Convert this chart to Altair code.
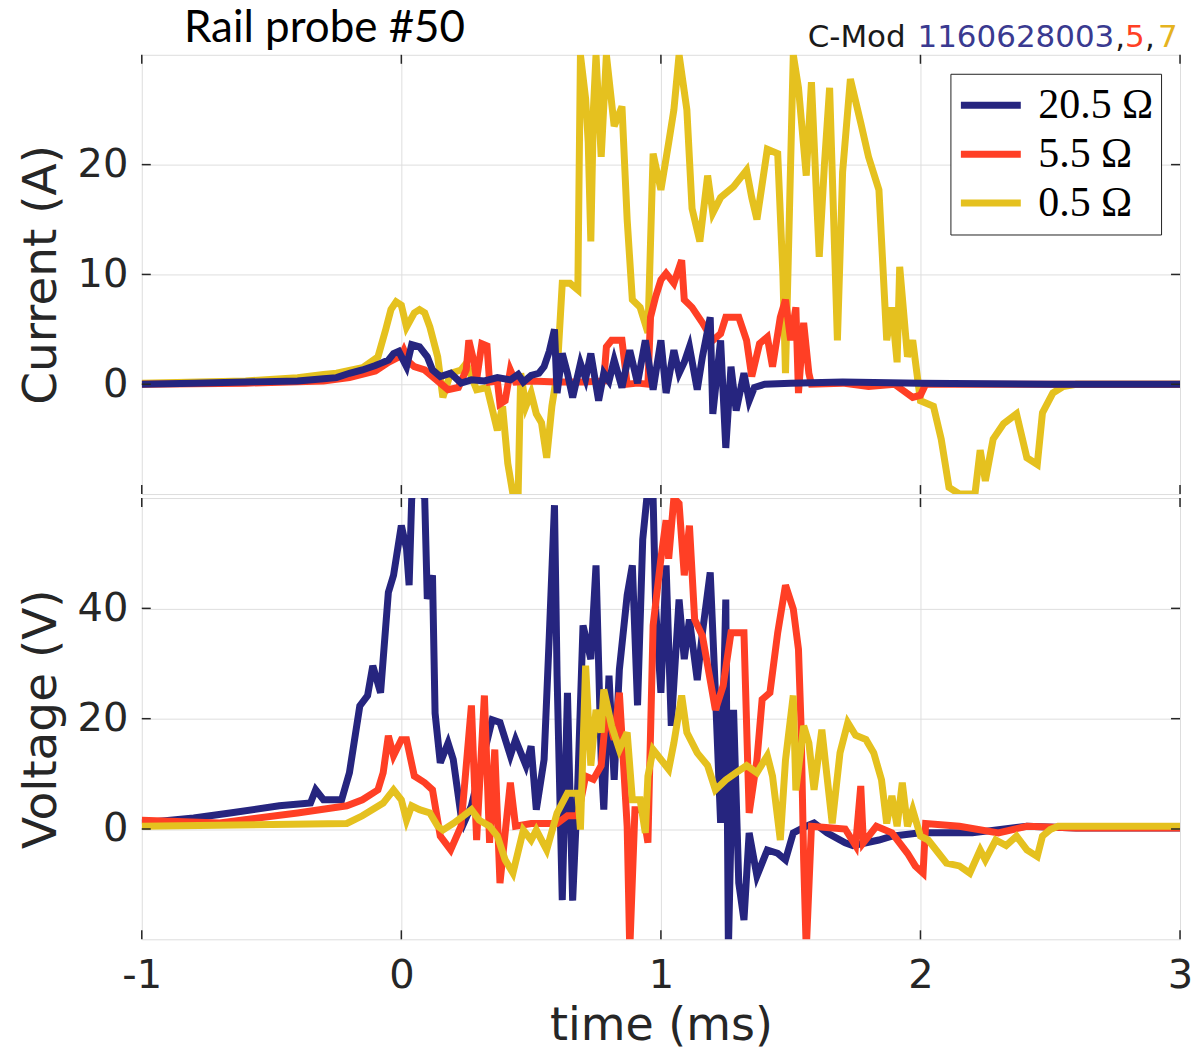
import altair as alt
import pandas as pd

# ---------------- data (time in ms, value) ----------------
LABELS = ["20.5 Ω", "5.5 Ω", "0.5 Ω"]
COLORS = ["#26257f", "#ff3f25", "#e5c11f"]

cur_blue = [(-1.0, 0.0), (-0.8, 0.1), (-0.6, 0.2), (-0.4, 0.3), (-0.3, 0.5), (-0.25, 0.6), (-0.2, 1.0),
            (-0.15, 1.3), (-0.1, 1.7), (-0.08, 1.9), (-0.05, 2.2), (-0.03, 2.8), (-0.01, 3.0), (0.02, 1.6),
            (0.04, 3.6), (0.07, 3.4), (0.1, 2.5), (0.12, 1.3), (0.15, 0.7), (0.19, 1.0), (0.23, 0.1),
            (0.27, 0.4), (0.32, 0.3), (0.37, 0.6), (0.42, 0.4), (0.45, 0.9), (0.47, 0.2), (0.5, 0.8),
            (0.53, 1.0), (0.55, 1.6), (0.57, 3.0), (0.59, 5.0), (0.6, -0.8), (0.62, 2.8), (0.64, 1.0),
            (0.66, -1.2), (0.69, 1.9), (0.71, 0.5), (0.73, 2.8), (0.76, -1.5), (0.78, 1.0), (0.8, 0.3),
            (0.82, 2.2), (0.85, -0.3), (0.88, 3.1), (0.91, 0.1), (0.94, 4.0), (0.97, -0.5), (1.0, 4.0),
            (1.02, -0.8), (1.05, 3.1), (1.07, 1.0), (1.09, 2.0), (1.11, 3.4), (1.14, -0.5), (1.16, 2.5),
            (1.19, 6.1), (1.2, -2.7), (1.23, 4.0), (1.25, -5.8), (1.27, 1.6), (1.29, -2.4), (1.32, 1.0),
            (1.34, -1.5), (1.36, -0.3), (1.4, 0.0), (1.5, 0.1), (1.7, 0.2), (2.0, 0.1), (2.5, 0.0), (3.0, 0.0)]

cur_red = [(-1.0, 0.0), (-0.6, 0.1), (-0.3, 0.3), (-0.2, 0.6), (-0.1, 1.2), (-0.05, 2.0), (0.0, 2.6),
           (0.01, 3.1), (0.03, 2.0), (0.05, 1.6), (0.09, 1.3), (0.13, 0.5), (0.18, -0.5), (0.22, -0.3),
           (0.25, 1.3), (0.26, 4.0), (0.28, 2.0), (0.29, 0.4), (0.31, 3.7), (0.33, 3.5), (0.34, 0.2),
           (0.37, 0.3), (0.38, -1.8), (0.40, -1.5), (0.42, 1.3), (0.44, 0.2), (0.5, 0.3), (0.6, 0.2),
           (0.7, 0.2), (0.78, 0.3), (0.79, 3.4), (0.81, 4.0), (0.85, 4.0), (0.87, 0.0), (0.91, 0.1),
           (0.95, 0.0), (0.96, 6.1), (0.98, 8.0), (1.0, 9.5), (1.02, 10.1), (1.05, 9.2), (1.08, 11.3),
           (1.09, 7.7), (1.12, 7.0), (1.16, 5.6), (1.2, 4.0), (1.23, 4.6), (1.25, 6.1), (1.3, 6.1),
           (1.33, 4.0), (1.35, 0.7), (1.38, 3.7), (1.41, 4.3), (1.43, 1.6), (1.46, 6.1), (1.48, 7.7),
           (1.5, 4.0), (1.52, 7.0), (1.53, -0.8), (1.55, 5.6), (1.57, 1.0), (1.58, 0.0), (1.7, 0.1),
           (1.8, -0.2), (1.9, 0.0), (1.97, -1.2), (2.0, -1.0), (2.02, 0.0), (2.5, 0.0), (3.0, 0.0)]

cur_yellow = [(-1.0, 0.1), (-0.6, 0.3), (-0.4, 0.6), (-0.3, 0.9), (-0.25, 1.0), (-0.15, 1.5), (-0.09, 2.5),
              (-0.06, 5.0), (-0.04, 6.8), (-0.02, 7.5), (0.0, 7.2), (0.02, 5.2), (0.05, 6.5), (0.07, 6.8),
              (0.09, 6.5), (0.11, 5.2), (0.14, 2.5), (0.16, -1.2), (0.19, 1.0), (0.23, 1.3), (0.25, 1.9),
              (0.29, -0.5), (0.33, -0.3), (0.37, -4.2), (0.39, -2.0), (0.41, -7.2), (0.43, -10.0),
              (0.45, -10.0), (0.46, 1.0), (0.48, -2.0), (0.5, -0.8), (0.52, -2.7), (0.54, -3.5),
              (0.56, -6.7), (0.58, -2.0), (0.6, 1.0), (0.62, 9.2), (0.65, 9.2), (0.68, 8.6), (0.69, 30.0),
              (0.71, 26.0), (0.72, 22.0), (0.73, 13.0), (0.74, 25.0), (0.75, 30.0), (0.77, 20.7),
              (0.79, 30.0), (0.82, 23.5), (0.85, 25.3), (0.87, 15.0), (0.89, 7.7), (0.92, 7.0), (0.95, 4.7),
              (0.97, 21.0), (1.0, 17.7), (1.03, 22.0), (1.05, 25.0), (1.07, 30.0), (1.1, 25.0), (1.12, 16.0),
              (1.15, 13.0), (1.18, 19.0), (1.2, 15.6), (1.23, 17.0), (1.28, 18.0), (1.33, 19.5), (1.35, 17.0),
              (1.37, 15.0), (1.41, 21.4), (1.45, 21.0), (1.47, 10.0), (1.48, 1.0), (1.51, 30.0), (1.53, 27.0),
              (1.56, 19.0), (1.58, 27.5), (1.61, 11.6), (1.63, 20.0), (1.65, 27.0), (1.68, 4.0), (1.70, 19.3),
              (1.73, 27.8), (1.77, 23.8), (1.8, 20.7), (1.84, 17.7), (1.87, 4.0), (1.89, 7.0), (1.91, 2.0),
              (1.92, 10.7), (1.95, 2.5), (1.97, 4.0), (2.0, -1.5), (2.05, -2.0), (2.08, -5.0), (2.11, -9.4),
              (2.15, -10.0), (2.18, -10.0), (2.21, -10.0), (2.23, -6.0), (2.25, -8.8), (2.28, -5.0),
              (2.32, -3.6), (2.37, -2.7), (2.41, -6.7), (2.45, -7.3), (2.47, -2.6), (2.51, -0.8),
              (2.55, -0.2), (2.6, 0.0), (3.0, 0.0)]

volt_blue = [(-1.0, 1.1), (-0.8, 2.0), (-0.66, 2.9), (-0.47, 4.2), (-0.35, 4.7), (-0.33, 7.1), (-0.3, 5.3),
             (-0.23, 5.3), (-0.2, 10.2), (-0.16, 22.3), (-0.13, 24.2), (-0.11, 29.6), (-0.08, 24.7),
             (-0.05, 42.9), (-0.03, 46.0), (0.0, 55.0), (0.02, 50.8), (0.03, 44.2), (0.04, 60.0), (0.06, 62.0),
             (0.09, 60.0), (0.1, 41.7), (0.12, 46.0), (0.13, 21.0), (0.15, 12.0), (0.18, 15.6), (0.2, 12.6),
             (0.23, 2.4), (0.24, 1.0), (0.27, 4.2), (0.31, 12.0), (0.35, 19.8), (0.38, 19.3), (0.42, 13.3),
             (0.44, 16.2), (0.48, 11.5), (0.5, 15.0), (0.52, 3.5), (0.55, 12.6), (0.57, 35.0), (0.59, 58.7),
             (0.6, 27.8), (0.62, -12.9), (0.64, 24.7), (0.66, -13.0), (0.68, 8.4), (0.7, 36.9), (0.73, 30.8),
             (0.75, 47.8), (0.77, 12.6), (0.78, 3.5), (0.8, 27.8), (0.82, 8.9), (0.84, 28.9), (0.87, 42.4),
             (0.89, 47.8), (0.91, 22.4), (0.93, 52.5), (0.95, 62.0), (0.97, 60.0), (0.98, 39.9), (1.0, 24.7),
             (1.02, 47.8), (1.04, 18.7), (1.07, 41.6), (1.09, 30.8), (1.11, 38.0), (1.14, 27.0), (1.16, 35.6),
             (1.19, 46.5), (1.21, 24.7), (1.23, 1.1), (1.25, 41.6), (1.26, -22.0), (1.28, 21.6), (1.3, -9.8),
             (1.32, -16.5), (1.34, -0.7), (1.37, -8.5), (1.41, -3.8), (1.45, -4.4), (1.48, -5.6), (1.51, -0.7),
             (1.56, 0.5), (1.59, 1.1), (1.64, -0.7), (1.71, -2.5), (1.74, -3.0), (1.84, -2.0), (1.89, -1.3),
             (2.0, -0.7), (2.2, -0.7), (2.41, 0.5), (2.6, 0.2), (3.0, 0.2)]

volt_red = [(-1.0, 1.6), (-0.7, 1.1), (-0.4, 2.9), (-0.21, 4.2), (-0.15, 5.3), (-0.09, 7.1), (-0.07, 10.2),
            (-0.05, 16.9), (-0.03, 13.3), (0.0, 16.2), (0.02, 16.2), (0.05, 9.6), (0.09, 8.4), (0.12, 7.1),
            (0.15, -1.3), (0.19, -3.8), (0.23, 0.5), (0.27, 22.4), (0.29, -2.0), (0.32, 24.2), (0.34, -2.5),
            (0.36, 14.4), (0.38, -9.8), (0.42, 8.4), (0.44, 0.5), (0.5, 1.0), (0.6, 1.0), (0.64, 2.4),
            (0.68, 2.4), (0.71, 9.6), (0.74, 9.0), (0.77, 11.5), (0.79, 21.6), (0.82, 16.2), (0.84, 24.7),
            (0.87, 0.5), (0.88, -22.0), (0.9, 3.5), (0.93, 3.5), (0.95, -2.5), (0.97, 36.9), (1.0, 49.0),
            (1.02, 56.0), (1.03, 49.0), (1.05, 60.0), (1.07, 59.0), (1.09, 46.0), (1.11, 55.0), (1.13, 38.0),
            (1.16, 35.0), (1.19, 27.0), (1.21, 21.6), (1.24, 26.0), (1.27, 35.6), (1.32, 35.6), (1.34, 2.9),
            (1.37, 12.5), (1.39, 23.5), (1.42, 24.7), (1.45, 35.6), (1.48, 44.2), (1.51, 39.9), (1.53, 32.6),
            (1.54, 18.7), (1.55, -5.6), (1.56, -22.0), (1.58, 0.5), (1.71, 0.0), (1.75, -3.0), (1.77, 7.8),
            (1.78, -2.5), (1.83, 0.5), (1.89, -0.7), (1.95, -4.4), (1.98, -6.7), (2.01, -8.0), (2.02, 1.0),
            (2.15, 0.5), (2.3, -0.7), (2.41, 0.5), (2.6, 0.2), (3.0, 0.2)]

volt_yellow = [(-1.0, 0.5), (-0.5, 0.8), (-0.21, 1.0), (-0.15, 2.4), (-0.07, 4.7), (-0.03, 7.1), (0.0, 5.3),
               (0.02, 1.6), (0.04, 4.2), (0.07, 3.5), (0.11, 2.9), (0.14, 0.5), (0.16, -0.2), (0.2, 1.0),
               (0.24, 2.4), (0.27, 3.5), (0.3, 1.6), (0.34, 0.5), (0.37, -1.3), (0.4, -5.6), (0.43, -8.0),
               (0.47, -0.2), (0.5, -2.0), (0.52, -0.2), (0.56, -3.8), (0.6, 2.9), (0.64, 6.5), (0.68, 6.5),
               (0.69, -0.1), (0.71, 29.6), (0.73, 11.5), (0.75, 21.6), (0.77, 17.5), (0.78, 25.3), (0.81, 18.7),
               (0.84, 14.4), (0.87, 17.5), (0.89, 5.3), (0.92, 5.3), (0.94, -0.7), (0.95, 9.6), (0.97, 14.4),
               (1.0, 12.6), (1.03, 10.8), (1.05, 15.6), (1.08, 24.2), (1.1, 17.5), (1.14, 13.8), (1.18, 11.5),
               (1.21, 7.1), (1.25, 8.9), (1.29, 10.2), (1.33, 11.5), (1.37, 10.2), (1.41, 13.3), (1.43, 9.6),
               (1.46, -2.0), (1.48, 12.5), (1.51, 24.2), (1.52, 7.0), (1.55, 18.7), (1.57, 15.6), (1.59, 7.1),
               (1.62, 18.0), (1.66, 1.0), (1.69, 13.8), (1.72, 19.3), (1.75, 17.0), (1.79, 16.2), (1.82, 13.8),
               (1.85, 8.9), (1.87, 1.0), (1.89, 6.0), (1.91, 0.5), (1.93, 8.4), (1.95, 0.5), (1.97, 3.5),
               (2.0, -1.3), (2.03, -2.0), (2.07, -4.4), (2.1, -6.2), (2.15, -6.7), (2.19, -8.0), (2.23, -3.8),
               (2.25, -5.6), (2.29, -2.0), (2.33, -3.0), (2.37, -1.3), (2.41, -3.8), (2.45, -5.0), (2.47, -1.3),
               (2.5, -0.1), (2.53, 0.5), (3.0, 0.5)]

X_TICKS = [-1, 0, 1, 2, 3]
CUR_TICKS = [0, 10, 20]
VOLT_TICKS = [0, 20, 40]
HEADER_PARTS = ["C-Mod", "1160628003", ",", "5", ",", "7"]
HEADER_COLORS = ["#1a1a1a", "#3a3a90", "#1a1a1a", "#ff3f25", "#1a1a1a", "#e5b31f"]
HEADER_X = [667, 777, 975, 985, 1005, 1018]


def frame(pairs, label):
    return pd.DataFrame({"t": [p[0] for p in pairs], "v": [p[1] for p in pairs], "series": label})


FONT = "DejaVu Sans"
AX = "#262626"
GRID = "#dedede"
color_scale = alt.Scale(domain=LABELS, range=COLORS)
edge_grid = alt.condition("datum.value == -1 || datum.value == 3", alt.value("transparent"), alt.value(GRID))


def xenc(show):
    return alt.X("t:Q", scale=alt.Scale(domain=[-1, 3], nice=False, zero=False),
                 axis=alt.Axis(values=X_TICKS, labels=show, title="time (ms)" if show else None,
                               ticks=False, domain=False, grid=True, gridColor=edge_grid,
                               labelExpr="'' + datum.value",
                               labelFont=FONT, labelFontSize=40, labelColor=AX, labelPadding=16,
                               labelFlush=False, labelOverlap=False,
                               titleFont=FONT, titleFontSize=46, titleFontWeight="normal",
                               titleColor=AX, titlePadding=8))


def yenc(domain, ticks, title):
    return alt.Y("v:Q", scale=alt.Scale(domain=domain, nice=False, zero=False),
                 axis=alt.Axis(values=ticks, title=title, ticks=False, domain=False, grid=True,
                               gridColor=GRID, labelFont=FONT, labelFontSize=40, labelColor=AX,
                               labelPadding=14, labelFlush=False, labelOverlap=False,
                               titleFont=FONT, titleFontSize=47, titleFontWeight="normal",
                               titleColor=AX, titlePadding=12))


def line_layer(df, domain, ticks, title, show_x, legend):
    return alt.Chart(df).mark_line(strokeWidth=7, clip=True, strokeJoin="miter").encode(
        x=xenc(show_x), y=yenc(domain, ticks, title),
        color=alt.Color("series:N", scale=color_scale, legend=legend))


def tick_layers(domain, yticks, title, show_x, h):
    xt = pd.DataFrame({"t": X_TICKS})
    yt = pd.DataFrame({"v": yticks})
    out = []
    for y0, y1 in [(0, 9), (h - 9, h)]:
        out.append(alt.Chart(xt).mark_rule(color=AX, strokeWidth=1.5).encode(
            x=xenc(show_x), y=alt.value(y0), y2=alt.value(y1)))
    for x0, x1 in [(0, 9), (1031, 1040)]:
        out.append(alt.Chart(yt).mark_rule(color=AX, strokeWidth=1.5).encode(
            y=yenc(domain, yticks, title), x=alt.value(x0), x2=alt.value(x1)))
    return out


legend = alt.Legend(orient="top-right", offset=19, title=None, symbolType="stroke",
                    symbolSize=3600, symbolStrokeWidth=7, labelFont="Liberation Serif",
                    labelFontSize=42, labelColor="black", strokeColor="#222222", fillColor="white",
                    padding=7, rowPadding=0, clipHeight=49, labelOffset=14, labelLimit=0,
                    symbolOpacity=1)

one = pd.DataFrame({"a": [0]})
texts = [alt.Chart(one).mark_text(text="Rail probe #50", font="Lato", fontSize=44, align="center",
                                  baseline="alphabetic", color="black").encode(
    x=alt.value(183), y=alt.value(-13))]
for part, col, xp in zip(HEADER_PARTS, HEADER_COLORS, HEADER_X):
    texts.append(alt.Chart(one).mark_text(text=part, font=FONT, fontSize=31, align="left",
                                          baseline="alphabetic", color=col).encode(
        x=alt.value(xp), y=alt.value(-8)))

top = alt.layer(
    line_layer(frame(cur_yellow, LABELS[2]), [-10, 30], CUR_TICKS, "Current (A)", False, legend),
    line_layer(frame(cur_red, LABELS[1]), [-10, 30], CUR_TICKS, "Current (A)", False, legend),
    line_layer(frame(cur_blue, LABELS[0]), [-10, 30], CUR_TICKS, "Current (A)", False, legend),
    *tick_layers([-10, 30], CUR_TICKS, "Current (A)", False, 440),
    *texts,
).properties(width=1040, height=440)

bottom = alt.layer(
    line_layer(frame(volt_blue, LABELS[0]), [-20, 60], VOLT_TICKS, "Voltage (V)", True, None),
    line_layer(frame(volt_red, LABELS[1]), [-20, 60], VOLT_TICKS, "Voltage (V)", True, None),
    line_layer(frame(volt_yellow, LABELS[2]), [-20, 60], VOLT_TICKS, "Voltage (V)", True, None),
    *tick_layers([-20, 60], VOLT_TICKS, "Voltage (V)", True, 442),
).properties(width=1040, height=442)

chart = alt.vconcat(top, bottom, spacing=0).resolve_scale(color="independent").configure_view(
    stroke=AX, strokeWidth=1.6).configure(padding={"left": 8, "top": -3, "right": 0, "bottom": 0},
                                          background="white")

chart.save("out.html", embed_options={"renderer": "svg", "actions": False})
